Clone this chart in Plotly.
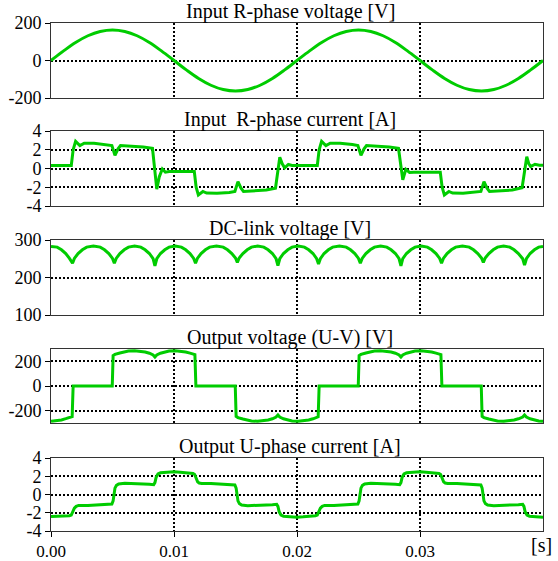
import plotly.graph_objects as go

W, H = 558, 561

# ---------------- data (time in ms) ----------------
t_vin = list(range(0, 41))
v_in = [0, 50, 96, 132, 155, 163, 155, 132, 96, 50, 0, -50, -96, -132, -155, -163, -155, -132, -96, -50,
        0, 50, 96, 132, 155, 163, 155, 132, 96, 50, 0, -50, -96, -132, -155, -163, -155, -132, -96, -50, 0]

t_iin = [0, 1.65, 1.8, 2.0, 2.35, 2.7, 3.5, 4.5, 4.95, 5.2, 5.45, 5.65, 6.5, 7.5, 8.25, 8.45, 8.6, 8.8, 9.05, 9.3, 9.6,
         11.65, 11.8, 11.98, 12.35, 12.65, 13.5, 14.5, 14.95, 15.2, 15.45, 15.65, 16.5, 17.5, 18.25, 18.45, 18.6,
         18.8, 19.0, 19.3, 19.6,
         21.65, 21.8, 22.0, 22.35, 22.7, 23.5, 24.5, 24.95, 25.2, 25.45, 25.65, 26.5, 27.5, 28.25, 28.45, 28.6,
         28.85, 29.15, 29.5, 31.65, 31.8, 31.98, 32.35, 32.65, 33.5, 34.5, 34.95, 35.2, 35.45, 35.65, 36.5, 37.5,
         38.3, 38.5, 38.68, 38.85, 39.0, 39.35, 39.7, 40.0]
i_in = [0.33, 0.33, 2.0, 2.9, 2.45, 2.7, 2.7, 2.55, 2.45, 1.4, 2.1, 2.45, 2.4, 2.3, 2.15, 0.0, -2.2, -0.9, -0.05, -0.4, -0.33,
        -0.33, -2.0, -2.83, -2.45, -2.62, -2.65, -2.55, -2.45, -1.4, -2.1, -2.45, -2.4, -2.3, -2.1, -0.2, 1.2,
        0.5, 0.07, 0.43, 0.33,
        0.33, 2.0, 2.9, 2.45, 2.7, 2.7, 2.55, 2.45, 1.4, 2.1, 2.45, 2.4, 2.3, 2.15, 0.2, -1.2,
        -0.1, -0.42, -0.4, -0.4, -2.0, -2.83, -2.45, -2.62, -2.65, -2.55, -2.45, -1.4, -2.1, -2.45, -2.4, -2.3,
        -2.05, -0.2, 1.25, 0.5, 0.2, 0.45, 0.35, 0.35]

t_vdc = [0, 0.5, 0.85, 1.2, 1.5, 1.75,
         1.9, 2.2, 2.55, 2.9, 3.45, 4.0, 4.35, 4.7, 5.0, 5.15,
         5.3, 5.6, 5.95, 6.3, 6.8, 7.3, 7.65, 8.0, 8.3, 8.45,
         8.6, 8.9, 9.25, 9.6, 10.1, 10.6, 10.95, 11.3, 11.6, 11.75,
         11.9, 12.2, 12.55, 12.9, 13.45, 14.0, 14.35, 14.7, 15.0, 15.15,
         15.3, 15.6, 15.95, 16.3, 16.8, 17.3, 17.65, 18.0, 18.3, 18.45,
         18.6, 18.9, 19.25, 19.6, 20.1, 20.6, 20.95, 21.3, 21.6, 21.75,
         21.9, 22.2, 22.55, 22.9, 23.45, 24.0, 24.35, 24.7, 25.0, 25.15,
         25.3, 25.6, 25.95, 26.3, 26.8, 27.3, 27.65, 28.0, 28.3, 28.45,
         28.6, 28.9, 29.25, 29.6, 30.1, 30.6, 30.95, 31.3, 31.6, 31.75,
         31.9, 32.2, 32.55, 32.9, 33.45, 34.0, 34.35, 34.7, 35.0, 35.15,
         35.3, 35.6, 35.95, 36.3, 36.8, 37.3, 37.65, 38.0, 38.35, 38.5,
         38.65, 38.95, 39.3, 39.65, 40.0]
v_dc = [283, 281, 274, 264, 251, 238,
        251, 264, 274, 281, 284, 281, 274, 264, 251, 238,
        251, 264, 274, 281, 284, 281, 274, 264, 250, 231,
        250, 264, 274, 281, 284, 281, 274, 264, 251, 238,
        251, 264, 274, 281, 284, 281, 274, 264, 252, 240,
        252, 264, 274, 281, 284, 281, 274, 264, 250, 232,
        250, 264, 274, 281, 284, 281, 274, 264, 250, 236,
        250, 264, 274, 281, 284, 281, 274, 264, 251, 238,
        251, 264, 274, 281, 284, 281, 274, 264, 250, 231,
        250, 264, 274, 281, 284, 281, 274, 264, 251, 238,
        251, 264, 274, 281, 284, 281, 274, 264, 252, 240,
        252, 264, 274, 281, 284, 281, 274, 264, 250, 233,
        250, 264, 274, 281, 283]

t_vout = [0, 0.5, 0.85, 1.2, 1.5, 1.72, 1.8, 4.98, 5.05, 5.2, 5.6, 5.95, 6.3, 6.8, 7.3, 7.65, 8.0, 8.3, 8.45,
          8.6, 8.9, 9.25, 9.6, 10.1, 10.6, 10.95, 11.3, 11.6, 11.7, 11.78, 14.98, 15.05, 15.2, 15.6, 15.95, 16.3,
          16.8, 17.3, 17.65, 18.0, 18.3, 18.45, 18.6, 18.9, 19.25, 19.6, 20.1, 20.6, 20.95, 21.3, 21.6, 21.72,
          21.8, 24.98, 25.05, 25.2, 25.6, 25.95, 26.3, 26.8, 27.3, 27.65, 28.0, 28.3, 28.45, 28.6, 28.9, 29.25,
          29.6, 30.1, 30.6, 30.95, 31.3, 31.6, 31.7, 31.78, 34.98, 35.05, 35.2, 35.6, 35.95, 36.3, 36.8, 37.3,
          37.65, 38.0, 38.35, 38.5, 38.65, 38.95, 39.3, 39.65, 40.0]
v_out = [-285, -282, -275, -265, -255, -248, 0, 0, 246, 256, 268, 277, 283, 286, 283, 276, 266, 252, 235,
         252, 266, 276, 283, 286, 283, 276, 267, 258, 255, 0, 0, -246, -256, -268, -277, -283,
         -286, -283, -276, -266, -252, -235, -252, -266, -276, -283, -286, -283, -276, -266, -255, -250,
         0, 0, 246, 256, 268, 277, 283, 286, 283, 276, 266, 252, 235, 252, 266, 276,
         283, 286, 283, 276, 267, 258, 255, 0, 0, -246, -256, -268, -277, -283, -286, -283,
         -276, -266, -252, -235, -252, -266, -276, -283, -286]

t_iout = [0, 0.5, 1.0, 1.5, 1.65, 1.78, 1.9, 2.05, 2.25, 3.0, 4.0, 4.95, 5.05, 5.12, 5.2, 5.32, 5.5, 6.0, 7.0,
          8.0, 8.35, 8.45, 8.55, 8.7, 8.9, 9.5, 10.0, 10.5, 11.0, 11.55, 11.68, 11.8, 11.92, 12.05, 12.25, 13.0,
          14.0, 14.95, 15.05, 15.12, 15.2, 15.32, 15.5, 16.0, 17.0, 18.0, 18.35, 18.45, 18.55, 18.7, 18.9, 19.5,
          20.0, 20.5, 21.0, 21.5, 21.65, 21.78, 21.9, 22.05, 22.25, 23.0, 24.0, 24.95, 25.05, 25.12, 25.2, 25.32,
          25.5, 26.0, 27.0, 28.0, 28.35, 28.45, 28.55, 28.7, 28.9, 29.5, 30.0, 30.5, 31.0, 31.55, 31.68, 31.8,
          31.92, 32.05, 32.25, 33.0, 34.0, 34.95, 35.05, 35.12, 35.2, 35.32, 35.5, 36.0, 37.0, 38.0, 38.35,
          38.45, 38.55, 38.7, 38.9, 39.5, 40.0]
i_out = [-2.42, -2.41, -2.38, -2.32, -2.25, -1.9, -1.5, -1.3, -1.2, -1.2, -1.15, -1.05, -0.7, 0.0, 0.7, 1.0, 1.15,
         1.22, 1.2, 1.12, 1.08, 1.3, 1.9, 2.25, 2.38, 2.45, 2.48, 2.45, 2.4, 2.3, 2.2, 1.8, 1.4, 1.25, 1.2, 1.2,
         1.15, 1.05, 0.7, 0.0, -0.7, -1.0, -1.15, -1.22, -1.2, -1.12, -1.08, -1.3, -1.9, -2.25, -2.38, -2.45,
         -2.48, -2.45, -2.4, -2.32, -2.25, -1.9, -1.5, -1.3, -1.2, -1.2, -1.15, -1.05, -0.7, 0.0, 0.7, 1.0,
         1.15, 1.22, 1.2, 1.12, 1.08, 1.3, 1.9, 2.25, 2.38, 2.45, 2.48, 2.45, 2.4, 2.3, 2.2, 1.8,
         1.4, 1.25, 1.2, 1.2, 1.15, 1.05, 0.7, 0.0, -0.7, -1.0, -1.15, -1.22, -1.2, -1.12, -1.08,
         -1.3, -1.9, -2.25, -2.38, -2.45, -2.48]

titles = ["Input R-phase voltage [V]", "Input\u00a0\u00a0R-phase current [A]", "DC-link voltage [V]",
          "Output voltage (U-V) [V]", "Output U-phase current [A]"]
y_ranges = [[-200, 200], [-4, 4], [100, 300], [-300, 300], [-4, 4]]
y_ticks = [[-200, 0, 200], [-4, -2, 0, 2, 4], [100, 200, 300], [-200, 0, 200], [-4, -2, 0, 2, 4]]
y_ticktext = [["-200", "0", "200"], ["-4", "-2", "0", "2", "4"], ["100", "200", "300"],
              ["-200", "0", "200"], ["-4", "-2", "0", "2", "4"]]
x_ticks = [0, 0.01, 0.02, 0.03]
x_ticktext = ["0.00", "0.01", "0.02", "0.03"]

series = [(t_vin, v_in, "spline"), (t_iin, i_in, "linear"), (t_vdc, v_dc, "linear"),
          (t_vout, v_out, "linear"), (t_iout, i_out, "linear")]

# ---------------- layout geometry (pixels) ----------------
x_left, x_right = 51, 543
panel_px = [(23, 98), (131, 206), (240, 315), (349, 423), (458, 531)]

FONT = "Liberation Serif"
GREEN = "#00cc00"
fig = go.Figure()
layout = dict(width=W, height=H, margin=dict(l=0, r=0, t=0, b=0, autoexpand=False),
              paper_bgcolor="white", plot_bgcolor="white", showlegend=False,
              font=dict(family=FONT, size=17, color="black"))
annotations = []

for k in range(5):
    sfx = "" if k == 0 else str(k + 1)
    tt, yy, shape = series[k]
    fig.add_trace(go.Scatter(x=[t / 1000 for t in tt], y=yy, mode="lines",
                             line=dict(color=GREEN, width=3, shape=shape),
                             xaxis="x" + sfx, yaxis="y" + sfx, hoverinfo="skip"))
    top, bot = panel_px[k]
    last = (k == 4)
    layout["xaxis" + sfx] = dict(
        domain=[x_left / W, x_right / W], range=[0, 0.04], anchor="y" + sfx, automargin=False,
        showline=True, mirror=True, linecolor="#333", linewidth=1,
        showgrid=True, gridcolor="black", griddash="2px,2px", gridwidth=1.5,
        tickvals=x_ticks, ticktext=x_ticktext, zeroline=False,
        showticklabels=last, ticks="outside" if last else "", ticklen=5, tickcolor="black",
        tickfont=dict(family=FONT, size=17, color="black"))
    layout["yaxis" + sfx] = dict(
        domain=[1 - bot / H, 1 - top / H], range=y_ranges[k], anchor="x" + sfx, automargin=False,
        showline=True, mirror=True, linecolor="#333", linewidth=1,
        showgrid=True, gridcolor="black", griddash="2px,2px", gridwidth=1.5,
        tickvals=y_ticks[k], ticktext=y_ticktext[k], zeroline=False,
        ticks="outside", ticklen=5, tickcolor="black",
        tickfont=dict(family=FONT, size=18, color="black"))
    annotations.append(dict(text=titles[k], xref="paper", yref="paper", x=290 / W, y=1 - (top - 12) / H,
                            xanchor="center", yanchor="middle", showarrow=False,
                            font=dict(family=FONT, size=20, color="black")))

annotations.append(dict(text="[s]", xref="paper", yref="paper", x=541 / W, y=1 - 545 / H,
                        xanchor="center", yanchor="middle", showarrow=False,
                        font=dict(family=FONT, size=20, color="black")))
layout["annotations"] = annotations
fig.update_layout(**layout)
fig.write_html("out.html")
